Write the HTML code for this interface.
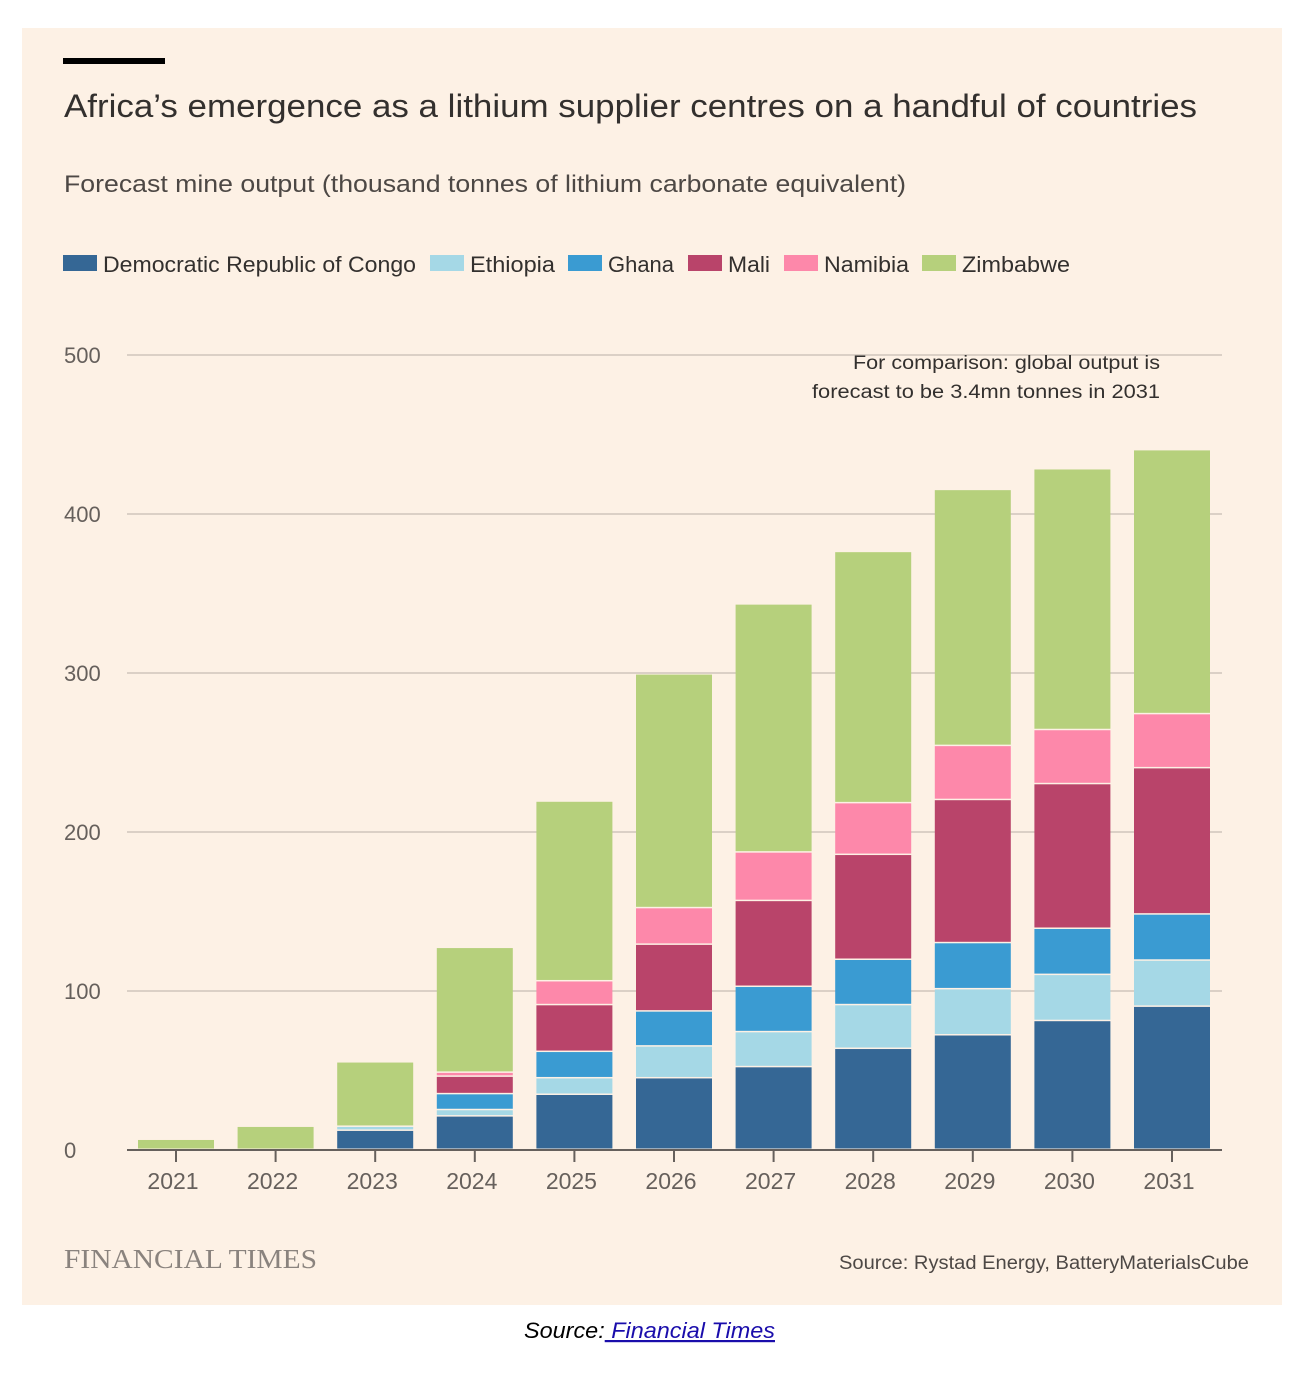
<!DOCTYPE html>
<html><head><meta charset="utf-8"><style>
body{margin:0;background:#fff;}
svg{display:block;font-family:"Liberation Sans",sans-serif;}
</style></head><body>
<svg id="chart" width="1292" height="1379">
<rect x="22" y="28" width="1260" height="1277" fill="#fdf1e5"/>
<rect x="63" y="58" width="102" height="6" fill="#000"/>
<text x="64" y="117" font-size="32" fill="#33302e" textLength="1133" lengthAdjust="spacingAndGlyphs">Africa’s emergence as a lithium supplier centres on a handful of countries</text>
<text x="64" y="192" font-size="24" fill="#4d4845" textLength="842" lengthAdjust="spacingAndGlyphs">Forecast mine output (thousand tonnes of lithium carbonate equivalent)</text>
<g id="legend"></g>
<g id="grid"></g>
<g id="bars"></g>
<text x="1160" y="369" font-size="19" fill="#33302e" text-anchor="end" textLength="307" lengthAdjust="spacingAndGlyphs">For comparison: global output is</text>
<text x="1160" y="398" font-size="19" fill="#33302e" text-anchor="end" textLength="348" lengthAdjust="spacingAndGlyphs">forecast to be 3.4mn tonnes in 2031</text>
<text x="64" y="1268" font-size="27" fill="#8a837e" font-family="Liberation Serif,serif" textLength="253" lengthAdjust="spacingAndGlyphs">FINANCIAL TIMES</text>
<text x="1249" y="1269" font-size="19" fill="#4d4845" text-anchor="end" textLength="410" lengthAdjust="spacingAndGlyphs">Source: Rystad Energy, BatteryMaterialsCube</text>
<text x="524" y="1338" font-size="22" font-style="italic" fill="#000" textLength="251" lengthAdjust="spacingAndGlyphs">Source:<tspan fill="#1a0dab" text-decoration="underline"> Financial Times</tspan></text>
</svg>
<script>
const years=["2021","2022","2023","2024","2025","2026","2027","2028","2029","2030","2031"];
const seriesNames=["Democratic Republic of Congo","Ethiopia","Ghana","Mali","Namibia","Zimbabwe"];
const drc=[0,0,12,21,34.6,45,52,63.5,72,81,90];
const ethiopia=[0,0,2.5,4,10.4,20,22,27.5,29,29,29];
const ghana=[0,0,0,10,16.6,22,28.5,28.5,29,29,29];
const mali=[0,0,0,11,29.4,42,54,66,90,91,92];
const namibia=[0,0,0,2.5,15,23,30.5,32.5,34,34,34];
const zimbabwe=[6.3,14.5,40.5,78.5,113,147,156,158,161,164,166];
const yTicks=[0,100,200,300,400,500];
const colors=["#356795","#a5d8e6","#3a9bd2","#b9446a","#fd88aa","#b6d07c"];
const NS="http://www.w3.org/2000/svg";
const y0=1150,pxPer=(1150-355)/500;
const yScale=v=>y0-v*pxPer;
const xScale=i=>176+i*99.6;
const bw=76;
function mk(tag,attrs,parent){const e=document.createElementNS(NS,tag);for(const k in attrs)e.setAttribute(k,attrs[k]);parent.appendChild(e);return e;}
const grid=document.getElementById('grid');
yTicks.forEach(t=>{
  const l=mk('line',{x1:127,x2:1222,y1:yScale(t),y2:yScale(t),stroke:t===0?'#66605c':'#d0c6bc','stroke-width':t===0?2:1.5},grid);
  
  
  const tx=mk('text',{x:64,y:yScale(t)+8,'font-size':22,fill:'#66605c'},grid);
  tx.textContent=t;
  
  
});
const bars=document.getElementById('bars');
const data=[drc,ethiopia,ghana,mali,namibia,zimbabwe];
years.forEach((yr,i)=>{
  let cum=0;
  data.forEach((s,si)=>{
    const v=s[i];if(v<=0)return;
    const r=mk('rect',{x:xScale(i)-bw/2,y:yScale(cum+v),width:bw,height:Math.max(0,v*pxPer-1.5),fill:colors[si]},bars);
    
    
    cum+=v;
  });
  const tk=mk('line',{x1:xScale(i),x2:xScale(i),y1:y0,y2:y0+12,stroke:'#66605c','stroke-width':2},bars);
  
  
  const tx=mk('text',{x:xScale(i)-3,y:1189,'font-size':23,fill:'#66605c','text-anchor':'middle'},bars);
  tx.textContent=yr;
  
  
});
const legend=document.getElementById('legend');
const lx=[63,430,568,688,784,922];
const lw=[313,85,66,42,85,108];
seriesNames.forEach((n,i)=>{
  const g=mk('g',{},legend);
  
  
  mk('rect',{x:lx[i],y:255,width:34,height:16,fill:colors[i]},g);
  const t=mk('text',{x:lx[i]+40,y:272,'font-size':22,fill:'#33302e',textLength:lw[i],lengthAdjust:'spacingAndGlyphs'},g);
  t.textContent=n;
});
</script>
</body></html>
